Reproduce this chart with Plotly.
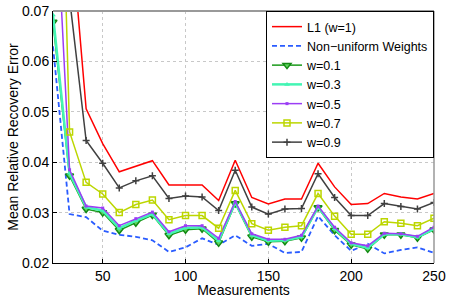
import plotly.graph_objects as go

measurements = [20, 30, 40, 50, 60, 70, 80, 90, 100, 110, 120, 130, 140, 150,
                160, 170, 180, 190, 200, 210, 220, 230, 240, 250]

l1 = [0.200, 0.0894, 0.0506, 0.0437, 0.0381, 0.0392, 0.0403, 0.0355, 0.0355, 0.0355,
      0.0324, 0.0404, 0.0330, 0.0317, 0.0327, 0.0327, 0.0398, 0.0351, 0.0316, 0.0318,
      0.0338, 0.0331, 0.0327, 0.0338]
nonuniform = [0.0630, 0.0297, 0.0291, 0.0264, 0.0256, 0.0252, 0.0245, 0.0222, 0.0231, 0.0249,
              0.0236, 0.0255, 0.0234, 0.0238, 0.0220, 0.0222, 0.0293, 0.0255, 0.0224, 0.0238,
              0.0219, 0.0226, 0.0231, 0.0220]
w01 = [0.0678, 0.0373, 0.0307, 0.0300, 0.0265, 0.0280, 0.0295, 0.0255, 0.0266, 0.0268,
       0.0240, 0.0318, 0.0252, 0.0242, 0.0243, 0.0250, 0.0310, 0.0265, 0.0236, 0.0228,
       0.0256, 0.0256, 0.0250, 0.0266]
w03 = [0.0692, 0.0378, 0.0311, 0.0304, 0.0269, 0.0284, 0.0297, 0.0258, 0.0270, 0.0271,
       0.0244, 0.0320, 0.0255, 0.0244, 0.0245, 0.0252, 0.0311, 0.0268, 0.0238, 0.0230,
       0.0257, 0.0257, 0.0251, 0.0268]
w05 = [0.1040, 0.0385, 0.0313, 0.0309, 0.0274, 0.0288, 0.0301, 0.0262, 0.0274, 0.0274,
       0.0249, 0.0322, 0.0258, 0.0247, 0.0247, 0.0255, 0.0313, 0.0271, 0.0240, 0.0234,
       0.0259, 0.0258, 0.0253, 0.0271]
w07 = [0.1640, 0.0460, 0.0360, 0.0337, 0.0300, 0.0316, 0.0325, 0.0286, 0.0294, 0.0294,
       0.0269, 0.0344, 0.0278, 0.0265, 0.0271, 0.0274, 0.0338, 0.0293, 0.0257, 0.0257,
       0.0282, 0.0279, 0.0274, 0.0289]
w09 = [0.200, 0.0725, 0.0443, 0.0398, 0.0349, 0.0363, 0.0373, 0.0328, 0.0333, 0.0331,
       0.0304, 0.0384, 0.0311, 0.0297, 0.0307, 0.0308, 0.0377, 0.0330, 0.0294, 0.0294,
       0.0318, 0.0312, 0.0307, 0.0320]

x_ticks = [50, 100, 150, 200, 250]
y_ticks = [0.02, 0.03, 0.04, 0.05, 0.06, 0.07]
y_ticklabels = ["0.02", "0.03", "0.04", "0.05", "0.06", "0.07"]

FONT = "Liberation Sans, Arial, sans-serif"

fig = go.Figure()
fig.add_trace(go.Scatter(x=measurements, y=l1, name="L1 (w=1)", mode="lines",
                         line=dict(color="#ff0000", width=1.5)))
fig.add_trace(go.Scatter(x=measurements, y=nonuniform, name="Non\u2212uniform Weights", mode="lines",
                         line=dict(color="#2a5cff", width=1.8, dash="5px,3px")))
fig.add_trace(go.Scatter(x=measurements, y=w01, name="w=0.1", mode="lines+markers",
                         line=dict(color="#1a9a1a", width=1.5),
                         marker=dict(symbol="triangle-down", size=7, color="#5fd35f",
                                     line=dict(color="#138a13", width=1.5))))
fig.add_trace(go.Scatter(x=measurements, y=w03, name="w=0.3", mode="lines+markers",
                         line=dict(color="#44f5b4", width=2.5),
                         marker=dict(symbol="triangle-up", size=5, color="#44f5b4")))
fig.add_trace(go.Scatter(x=measurements, y=w05, name="w=0.5", mode="lines+markers",
                         line=dict(color="#9b3df5", width=1.5),
                         marker=dict(symbol="square", size=3, color="#9b3df5")))
fig.add_trace(go.Scatter(x=measurements, y=w07, name="w=0.7", mode="lines+markers",
                         line=dict(color="#bcd600", width=1.5),
                         marker=dict(symbol="square-open", size=6, color="#bcd600",
                                     line=dict(width=1.5))))
fig.add_trace(go.Scatter(x=measurements, y=w09, name="w=0.9", mode="lines+markers",
                         line=dict(color="#404040", width=1.5),
                         marker=dict(symbol="cross-thin", size=5, color="#404040",
                                     line=dict(color="#404040", width=1.5))))

axis_common = dict(showline=True, linecolor="black", linewidth=1, ticks="inside",
                   ticklen=4, tickcolor="black", showgrid=True, gridcolor="#c8c8c8",
                   griddash="dot", gridwidth=1, zeroline=False, automargin=False,
                   tickfont=dict(family=FONT, size=14, color="black"))

fig.update_layout(
    width=450, height=298,
    margin=dict(l=53, r=16, t=11, b=35, autoexpand=False),
    paper_bgcolor="white", plot_bgcolor="white",
    font=dict(family=FONT, size=14, color="black"),
    showlegend=True,
    legend=dict(x=1, y=1, xanchor="right", yanchor="top",
                bgcolor="white", bordercolor="black", borderwidth=1,
                font=dict(family=FONT, size=12.5), tracegroupgap=0,
                itemwidth=30),
    xaxis=dict(range=[20, 250], tickvals=x_ticks,
               title=dict(text="Measurements", standoff=0, font=dict(size=14)),
               **axis_common),
    yaxis=dict(range=[0.02, 0.07], tickvals=y_ticks, ticktext=y_ticklabels,
               title=dict(text="Mean Relative Recovery Error", standoff=0, font=dict(size=14)),
               **axis_common),
)
# gray top/right box lines (MATLAB-style box)
fig.add_shape(type="line", xref="paper", yref="paper", x0=0, x1=1, y0=1, y1=1,
              line=dict(color="#999999", width=2))
fig.add_shape(type="line", xref="paper", yref="paper", x0=1, x1=1, y0=0, y1=1,
              line=dict(color="#999999", width=1.5))

fig.write_html("out.html", config={"displayModeBar": False},
               post_script="document.body.style.margin='0';")
